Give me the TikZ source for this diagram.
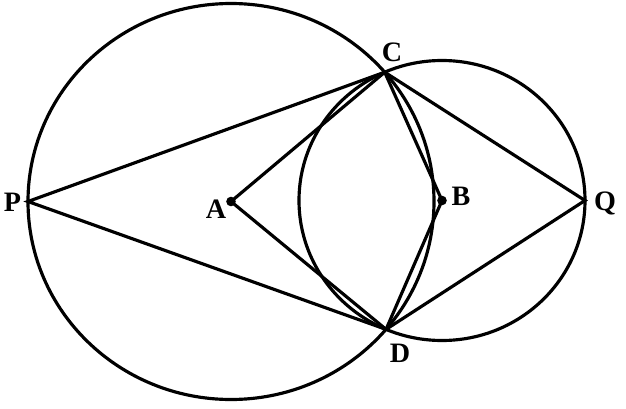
\documentclass[tikz,border=0pt]{standalone}
\usepackage{fontspec}
\setmainfont{Liberation Serif}
\usetikzlibrary{intersections}
\tikzset{
	lettre/.style={font=\fontsize{16}{16}\selectfont\bfseries,inner sep=0pt,anchor=base},
	pt/.style={radius=4.8}
}
\begin{document}
\begin{tikzpicture}[x=0.02cm,y=-0.02cm,line width=1.8pt]
		\useasboundingbox (0,0) rectangle (626,409);
		\coordinate (A) at (231,201.5);
		\coordinate (B) at (442,200.5);
		\coordinate (P) at (28,201.5);
		\coordinate (Q) at (585,200.5);
		
		\draw[name path=grand] (A) ellipse [x radius=203,y radius=198];
		\draw[name path=petit] (B) ellipse [x radius=143,y radius=140];
		\path[name intersections={of=grand and petit,by={C,D}}];
		
		\draw (P) -- (C) -- (Q) -- (D) -- cycle;
		\draw (C) -- (A) -- (D);
		\draw (C) -- (B) -- (D);
		
		\fill (A) circle[pt];
		\fill (B) circle[pt];
		
		\node[lettre] (lP) at (12.5,211) {P};
		\node[lettre] (lA) at (216,218) {A};
		\node[lettre] (lB) at (461,205) {B};
		\node[lettre] (lQ) at (605,210) {Q};
		\node[lettre] (lC) at (392,61) {C};
		\node[lettre] (lD) at (400,362) {D};
	\end{tikzpicture}
\end{document}
